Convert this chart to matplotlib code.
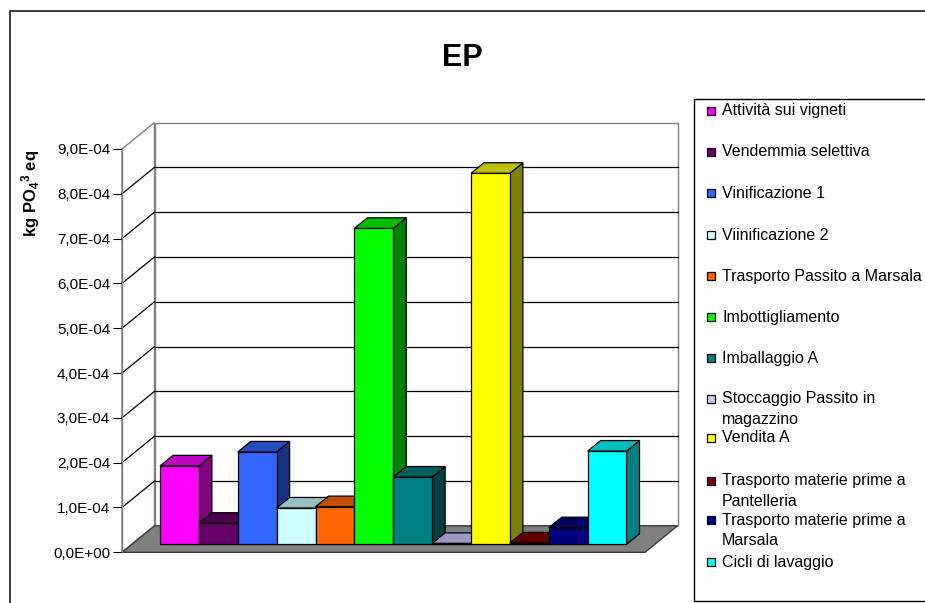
import matplotlib
matplotlib.use('Agg')
import matplotlib.pyplot as plt
from matplotlib.patches import Polygon, Rectangle
from matplotlib.lines import Line2D
from matplotlib.transforms import IdentityTransform
from matplotlib.ticker import FuncFormatter
from matplotlib.colors import to_rgb

plt.rcParams['font.family'] = ['Liberation Sans', 'DejaVu Sans']
plt.rcParams['mathtext.fontset'] = 'custom'
plt.rcParams['mathtext.rm'] = 'Liberation Sans:bold'
plt.rcParams['mathtext.bf'] = 'Liberation Sans:bold'
plt.rcParams['mathtext.default'] = 'bf'

# ---------------- data ----------------
title = 'EP'
ylabel = r'kg PO$_4{}^3$ eq'
categories = [
    'Attività sui vigneti',
    'Vendemmia selettiva',
    'Vinificazione 1',
    'Viinificazione 2',
    'Trasporto Passito a Marsala',
    'Imbottigliamento',
    'Imballaggio A',
    'Stoccaggio Passito in\nmagazzino',
    'Vendita A',
    'Trasporto materie prime a\nPantelleria',
    'Trasporto materie prime a\nMarsala',
    'Cicli di lavaggio',
]
values = [1.75e-4, 0.47e-4, 2.06e-4, 0.81e-4, 0.84e-4, 7.05e-4,
          1.50e-4, 0.02e-4, 8.28e-4, 0.03e-4, 0.37e-4, 2.08e-4]
yticks = [0, 1e-4, 2e-4, 3e-4, 4e-4, 5e-4, 6e-4, 7e-4, 8e-4, 9e-4]

# ---------------- style ----------------
colors = ['#FF00FF', '#660066', '#3366FF', '#CCFFFF', '#FF6600', '#00FF00',
          '#008080', '#CCCCFF', '#FFFF00', '#800000', '#000080', '#00FFFF']

W, H = 925, 603
fig = plt.figure(figsize=(W / 100, H / 100), dpi=100)

def fx(x):
    return x / W

def fy(y):
    return 1 - y / H

# outer chart border
fig.add_artist(Rectangle((fx(10), fy(640)), fx(960) - fx(10), fy(11) - fy(640),
                         transform=fig.transFigure, fill=False,
                         edgecolor='#202020', lw=1.2))

# front plane axes
L, R, T, B = 122, 645, 149, 552.3
ax = fig.add_axes([fx(L), fy(B), (R - L) / W, (B - T) / H])
n = len(values)
G = 0.7267
ax.set_xlim(-G, n + G)
ax.set_ylim(yticks[0], yticks[-1])
ax.patch.set_visible(False)
for s in ['top', 'right', 'bottom']:
    ax.spines[s].set_visible(False)
ax.spines['left'].set_color('#808080')
ax.spines['left'].set_linewidth(1.0)
ax.set_xticks([])
ax.set_yticks(yticks)
ax.yaxis.set_major_formatter(FuncFormatter(lambda v, p: f'{v:.1E}'.replace('.', ',')))
ax.tick_params(axis='y', direction='out', length=6.5, width=0.8, color='black',
               labelsize=11, pad=2, labelcolor='black')

DX, DY = 32.5, 26.5  # depth offset (px)
xmin, xmax = -G, n + G
ymax = yticks[-1]

def proj(x, y, d):
    X, Y = ax.transData.transform((x, y))
    return (X + d * DX, Y + d * DY)

def poly(pts, fc, ec, lw, z):
    p = Polygon(pts, closed=True, facecolor=fc, edgecolor=ec, lw=lw,
                transform=IdentityTransform(), clip_on=False, zorder=z,
                joinstyle='miter')
    ax.add_patch(p)

def line(p0, p1, c, lw, z):
    l = Line2D([p0[0], p1[0]], [p0[1], p1[1]], color=c, lw=lw,
               transform=IdentityTransform(), clip_on=False, zorder=z)
    ax.add_line(l)

# back wall
poly([proj(xmin, 0, 1), proj(xmax, 0, 1), proj(xmax, ymax, 1), proj(xmin, ymax, 1)],
     'white', '#808080', 1.0, 0.1)
# left wall
poly([proj(xmin, 0, 0), proj(xmin, 0, 1), proj(xmin, ymax, 1), proj(xmin, ymax, 0)],
     'white', '#808080', 1.0, 0.1)
# gridlines
for t in yticks[1:-1]:
    line(proj(xmin, t, 1), proj(xmax, t, 1), 'black', 0.9, 0.2)
    line(proj(xmin, t, 0), proj(xmin, t, 1), 'black', 0.9, 0.2)
# floor
poly([proj(xmin, 0, 0), proj(xmax, 0, 0), proj(xmax, 0, 1), proj(xmin, 0, 1)],
     '#808080', '#3a3a3a', 1.0, 0.3)

# bars
d0, d1 = 0.3, 0.7
for i, (v, c) in enumerate(zip(values, colors)):
    rgb = to_rgb(c)
    top_c = tuple(0.75 * k for k in rgb)
    side_c = tuple(0.5 * k for k in rgb)
    x0, x1 = i, i + 1
    z = 3 + i * 0.01
    poly([proj(x1, 0, d0), proj(x1, 0, d1), proj(x1, v, d1), proj(x1, v, d0)],
         side_c, 'black', 0.9, z)
    poly([proj(x0, v, d0), proj(x1, v, d0), proj(x1, v, d1), proj(x0, v, d1)],
         top_c, 'black', 0.9, z)
    poly([proj(x0, 0, d0), proj(x1, 0, d0), proj(x1, v, d0), proj(x0, v, d0)],
         c, 'black', 0.9, z)

# title and y label
fig.text(fx(462), fy(58), title, ha='center', va='center', fontsize=22,
         fontweight='bold')
fig.text(fx(31), fy(193), ylabel, ha='center', va='center', fontsize=12,
         fontweight='bold', rotation=90)

# legend
fig.add_artist(Rectangle((fx(694), fy(601)), fx(960) - fx(694), fy(99.3) - fy(601),
                         transform=fig.transFigure, fill=False,
                         edgecolor='black', lw=1.0))
leg_y = [111, 152, 193, 235, 276, 317, 358, 399, 438, 481, 520, 562]
line_gap = 20.5
for lab, c, y in zip(categories, colors, leg_y):
    fig.add_artist(Rectangle((fx(707), fy(y + 4)), 8 / W, 8 / H,
                             transform=fig.transFigure, facecolor=c,
                             edgecolor='black', lw=0.9))
    for k, part in enumerate(lab.split('\n')):
        fig.text(fx(722), fy(y + k * line_gap), part, ha='left', va='center',
                 fontsize=11.5)

fig.savefig('out.png', dpi=100)
